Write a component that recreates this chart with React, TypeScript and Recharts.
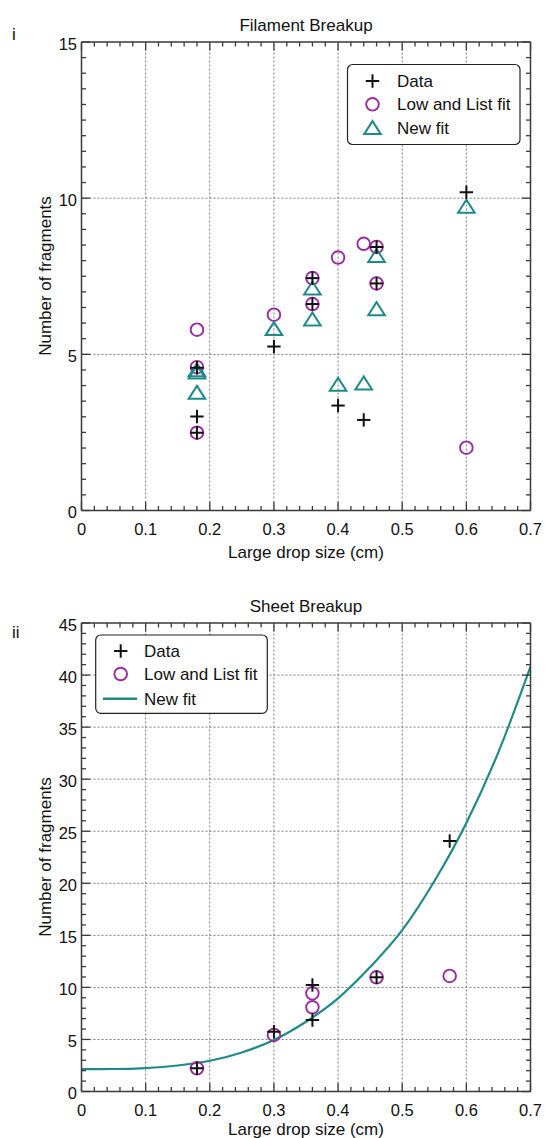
import React from 'react';
import { ComposedChart, Scatter, Line, XAxis, YAxis, ReferenceLine } from 'recharts';

const FONT = '"Liberation Sans", Arial, Helvetica, sans-serif';
const BLACK = '#111111';
const PURPLE = '#9b2c9f';
const TEAL = '#1f8a8a';
const GRID = '#7a7a7a';
const FRAME = '#3a3a3a';

// ---------- Panel i : Filament Breakup ----------
const filamentData = [
  { x: 0.18, y: 4.57 }, { x: 0.18, y: 3.01 }, { x: 0.18, y: 2.49 },
  { x: 0.3, y: 5.25 },
  { x: 0.36, y: 7.44 }, { x: 0.36, y: 6.61 },
  { x: 0.4, y: 3.36 },
  { x: 0.44, y: 2.9 },
  { x: 0.46, y: 8.44 }, { x: 0.46, y: 7.27 },
  { x: 0.6, y: 10.19 },
];
const filamentLowList = [
  { x: 0.18, y: 5.79 }, { x: 0.18, y: 4.59 }, { x: 0.18, y: 2.49 },
  { x: 0.3, y: 6.27 },
  { x: 0.36, y: 7.44 }, { x: 0.36, y: 6.61 },
  { x: 0.4, y: 8.1 },
  { x: 0.44, y: 8.54 },
  { x: 0.46, y: 8.44 }, { x: 0.46, y: 7.27 },
  { x: 0.6, y: 2.01 },
];
const filamentNewFit = [
  { x: 0.18, y: 4.5 }, { x: 0.18, y: 4.43 }, { x: 0.18, y: 3.78 },
  { x: 0.3, y: 5.82 },
  { x: 0.36, y: 7.12 }, { x: 0.36, y: 6.13 },
  { x: 0.4, y: 4.04 },
  { x: 0.44, y: 4.08 },
  { x: 0.46, y: 8.16 }, { x: 0.46, y: 6.46 },
  { x: 0.6, y: 9.74 },
];

// ---------- Panel ii : Sheet Breakup ----------
const sheetData = [
  { x: 0.18, y: 2.23 },
  { x: 0.3, y: 5.74 },
  { x: 0.36, y: 10.23 }, { x: 0.36, y: 6.87 },
  { x: 0.46, y: 10.97 },
  { x: 0.574, y: 24.06 },
];
const sheetLowList = [
  { x: 0.18, y: 2.23 },
  { x: 0.3, y: 5.43 },
  { x: 0.36, y: 9.43 }, { x: 0.36, y: 8.09 },
  { x: 0.46, y: 10.97 },
  { x: 0.574, y: 11.1 },
];
const sheetFitX = [0, 0.05, 0.1, 0.15, 0.2, 0.25, 0.3, 0.35, 0.4, 0.45, 0.5, 0.55, 0.6, 0.65, 0.7];
const sheetFitY = [2.15, 2.16, 2.25, 2.5, 2.95, 3.75, 4.95, 6.7, 8.95, 11.95, 15.5, 20.2, 25.8, 32.6, 40.8];
const sheetFit = sheetFitX.map((x, i) => ({ x, y: sheetFitY[i] }));

// ---------- Axes ----------
const xMajorTicks = [0, 0.1, 0.2, 0.3, 0.4, 0.5, 0.6, 0.7];
const xTickLabels = ['0', '0.1', '0.2', '0.3', '0.4', '0.5', '0.6', '0.7'];
const filamentYMajor = [0, 5, 10, 15];
const filamentYLabels = ['0', '5', '10', '15'];
const sheetYMajor = [0, 5, 10, 15, 20, 25, 30, 35, 40, 45];
const sheetYLabels = ['0', '5', '10', '15', '20', '25', '30', '35', '40', '45'];
const xGrid = [0.1, 0.2, 0.3, 0.4, 0.5, 0.6];
const filamentYGrid = [5, 10];
const sheetYGrid = [5, 10, 15, 20, 25, 30, 35, 40];

const range = (start: number, end: number, step: number) => {
  const out: number[] = [];
  const n = Math.round((end - start) / step);
  for (let i = 0; i <= n; i++) out.push(Math.round((start + i * step) * 1000) / 1000);
  return out;
};
const xAllTicks = range(0, 0.7, 0.02);
const filamentYAllTicks = range(0, 15, 0.5);
const sheetYAllTicks = range(0, 45, 1);

const MAJOR = 8.5;
const MINOR = 4.5;

type Side = 'bottom' | 'top' | 'left' | 'right';
const makeTick = (side: Side, majors: number[], labels: string[] | null) => (props: any) => {
  const { x, y, payload } = props;
  const v = payload.value;
  const idx = majors.findIndex((m) => Math.abs(m - v) < 1e-6);
  const major = idx >= 0;
  const len = major ? MAJOR : MINOR;
  let x2 = x;
  let y2 = y;
  if (side === 'bottom') y2 = y - len;
  if (side === 'top') y2 = y + len;
  if (side === 'left') x2 = x + len;
  if (side === 'right') x2 = x - len;
  return (
    <g>
      <line x1={x} y1={y} x2={x2} y2={y2} stroke={FRAME} strokeWidth={1.3} />
      {major && labels && side === 'bottom' && (
        <text x={x} y={y + 24} textAnchor="middle" fontSize={16.5} fontFamily={FONT} fill={BLACK}>
          {labels[idx]}
        </text>
      )}
      {major && labels && side === 'left' && (
        <text x={x - 4.5} y={y + 7.5} textAnchor="end" fontSize={16.5} fontFamily={FONT} fill={BLACK}>
          {labels[idx]}
        </text>
      )}
    </g>
  );
};

const PlusShape = (props: any) => {
  const { cx, cy } = props;
  if (cx == null || cy == null) return <g />;
  return (
    <g>
      <line x1={cx - 6.7} y1={cy} x2={cx + 6.7} y2={cy} stroke={BLACK} strokeWidth={2} />
      <line x1={cx} y1={cy - 6.7} x2={cx} y2={cy + 6.7} stroke={BLACK} strokeWidth={2} />
    </g>
  );
};
const CircleShape = (props: any) => {
  const { cx, cy } = props;
  if (cx == null || cy == null) return <g />;
  return <circle cx={cx} cy={cy} r={6.3} fill="none" stroke={PURPLE} strokeWidth={1.9} />;
};
const TriangleShape = (props: any) => {
  const { cx, cy } = props;
  if (cx == null || cy == null) return <g />;
  const pts = `${cx},${cy - 6.6} ${cx - 8.3},${cy + 6.4} ${cx + 8.3},${cy + 6.4}`;
  return <polygon points={pts} fill="none" stroke={TEAL} strokeWidth={2} strokeLinejoin="miter" />;
};

const axisLine = { stroke: FRAME, strokeWidth: 1.5 };

// plot box edges (shared by both panels)
const LEFT = 81.5;
const RIGHT = 14.5;

const renderAxes = (yMajor: number[], yLabels: string[], yAll: number[], yMax: number, top: number, bottom: number) => [
  <XAxis
    key="xb"
    xAxisId="b"
    orientation="bottom"
    type="number"
    dataKey="x"
    domain={[0, 0.7]}
    allowDataOverflow
    ticks={xAllTicks}
    interval={0}
    height={bottom}
    tickSize={0}
    tickMargin={0}
    tickLine={false}
    axisLine={axisLine}
    tick={makeTick('bottom', xMajorTicks, xTickLabels)}
  />,
  <XAxis
    key="xt"
    xAxisId="t"
    orientation="top"
    type="number"
    dataKey="x"
    domain={[0, 0.7]}
    allowDataOverflow
    ticks={xAllTicks}
    interval={0}
    height={top}
    tickSize={0}
    tickMargin={0}
    tickLine={false}
    axisLine={axisLine}
    tick={makeTick('top', xMajorTicks, null)}
  />,
  <YAxis
    key="yl"
    yAxisId="l"
    orientation="left"
    type="number"
    dataKey="y"
    domain={[0, yMax]}
    allowDataOverflow
    ticks={yAll}
    interval={0}
    width={LEFT}
    tickSize={0}
    tickMargin={0}
    tickLine={false}
    axisLine={axisLine}
    tick={makeTick('left', yMajor, yLabels)}
  />,
  <YAxis
    key="yr"
    yAxisId="r"
    orientation="right"
    type="number"
    dataKey="y"
    domain={[0, yMax]}
    allowDataOverflow
    ticks={yAll}
    interval={0}
    width={RIGHT}
    tickSize={0}
    tickMargin={0}
    tickLine={false}
    axisLine={axisLine}
    tick={makeTick('right', yMajor, null)}
  />,
];

const gridLines = (yGrid: number[]) => [
  ...xGrid.map((v) => (
    <ReferenceLine key={`gx${v}`} xAxisId="b" yAxisId="l" x={v} stroke={GRID} strokeWidth={1} strokeDasharray="2 2" />
  )),
  ...yGrid.map((v) => (
    <ReferenceLine key={`gy${v}`} xAxisId="b" yAxisId="l" y={v} stroke={GRID} strokeWidth={1} strokeDasharray="2 2" />
  )),
];

const textStyle = { fontFamily: FONT, fill: BLACK } as const;
const zeroMargin = { top: 0, right: 0, bottom: 0, left: 0 };

export default function App() {
  return (
    <div style={{ position: 'absolute', left: 0, top: 0, width: 545, height: 1138, overflow: 'hidden', background: '#fff' }}>
      <div style={{ position: 'absolute', left: 0, top: 0 }}>
        <ComposedChart width={545} height={575} margin={zeroMargin}>
          {gridLines(filamentYGrid)}
          {renderAxes(filamentYMajor, filamentYLabels, filamentYAllTicks, 15, 42, 64.5)}
          <Scatter name="Low and List fit" data={filamentLowList} xAxisId="b" yAxisId="l" shape={CircleShape} isAnimationActive={false} />
          <Scatter name="New fit" data={filamentNewFit} xAxisId="b" yAxisId="l" shape={TriangleShape} isAnimationActive={false} />
          <Scatter name="Data" data={filamentData} xAxisId="b" yAxisId="l" shape={PlusShape} isAnimationActive={false} />
        </ComposedChart>
      </div>
      <div style={{ position: 'absolute', left: 0, top: 580 }}>
        <ComposedChart width={545} height={558} margin={zeroMargin}>
          {gridLines(sheetYGrid)}
          {renderAxes(sheetYMajor, sheetYLabels, sheetYAllTicks, 45, 43, 46.5)}
          <Line
            name="New fit"
            data={sheetFit}
            dataKey="y"
            xAxisId="b"
            yAxisId="l"
            type="monotone"
            stroke={TEAL}
            strokeWidth={2.2}
            dot={false}
            activeDot={false}
            isAnimationActive={false}
          />
          <Scatter name="Low and List fit" data={sheetLowList} xAxisId="b" yAxisId="l" shape={CircleShape} isAnimationActive={false} />
          <Scatter name="Data" data={sheetData} xAxisId="b" yAxisId="l" shape={PlusShape} isAnimationActive={false} />
        </ComposedChart>
      </div>
      <svg
        width={545}
        height={1138}
        style={{ position: 'absolute', left: 0, top: 0, pointerEvents: 'none' }}
      >
        {/* Panel i texts */}
        <text x={12} y={40} fontSize={17} {...textStyle}>i</text>
        <text x={306} y={31} fontSize={17} textAnchor="middle" {...textStyle}>Filament Breakup</text>
        <text x={306} y={558} fontSize={17} textAnchor="middle" {...textStyle}>Large drop size (cm)</text>
        <text x={51} y={276} fontSize={17} textAnchor="middle" transform="rotate(-90, 51, 276)" {...textStyle}>
          Number of fragments
        </text>
        {/* Panel i legend */}
        <rect x={347.5} y={64.5} width={172.5} height={80} rx={5} ry={5} fill="#fff" stroke="#222" strokeWidth={1.2} />
        <PlusShape cx={372.5} cy={81} />
        <CircleShape cx={372.5} cy={104.3} />
        <TriangleShape cx={372.5} cy={127.7} />
        <text x={397} y={87} fontSize={17} {...textStyle}>Data</text>
        <text x={397} y={110.3} fontSize={17} {...textStyle}>Low and List fit</text>
        <text x={397} y={133.7} fontSize={17} {...textStyle}>New fit</text>

        {/* Panel ii texts */}
        <text x={12} y={638} fontSize={17} {...textStyle}>ii</text>
        <text x={306} y={612} fontSize={17} textAnchor="middle" {...textStyle}>Sheet Breakup</text>
        <text x={306} y={1135} fontSize={17} textAnchor="middle" {...textStyle}>Large drop size (cm)</text>
        <text x={51} y={857} fontSize={17} textAnchor="middle" transform="rotate(-90, 51, 857)" {...textStyle}>
          Number of fragments
        </text>
        {/* Panel ii legend */}
        <rect x={95.7} y={635} width={171.6} height={78.3} rx={5} ry={5} fill="#fff" stroke="#222" strokeWidth={1.2} />
        <PlusShape cx={120.7} cy={651} />
        <CircleShape cx={120.7} cy={674} />
        <line x1={103} y1={698.7} x2={137} y2={698.7} stroke={TEAL} strokeWidth={2.4} />
        <text x={144} y={657} fontSize={17} {...textStyle}>Data</text>
        <text x={144} y={680} fontSize={17} {...textStyle}>Low and List fit</text>
        <text x={144} y={704.7} fontSize={17} {...textStyle}>New fit</text>
      </svg>
    </div>
  );
}
